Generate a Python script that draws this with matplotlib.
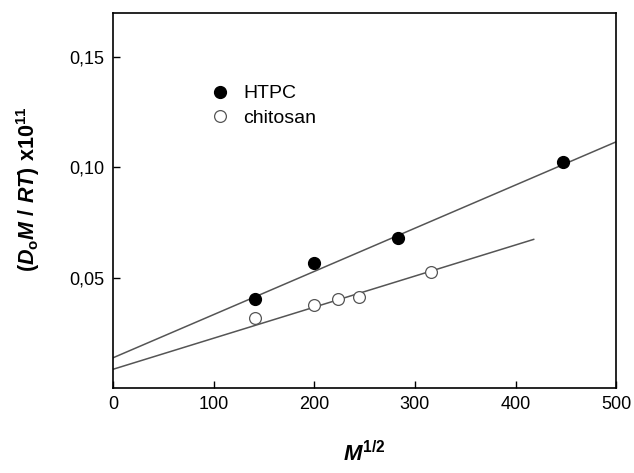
import numpy as np
import matplotlib.pyplot as plt
from matplotlib.ticker import FuncFormatter

# data
htpc_x = [141.4, 200.0, 282.8, 447.2]
htpc_y = [0.0405, 0.0568, 0.0680, 0.1023]
chit_x = [141.4, 200.0, 223.6, 244.9, 316.2]
chit_y = [0.0315, 0.0375, 0.0405, 0.0412, 0.0527]

# fitted lines (intercept, slope, x range)
htpc_fit = (0.0136, 1.96e-4, 0, 500)
chit_fit = (0.0084, 1.41e-4, 0, 418)

plt.rcParams['font.family'] = ['Liberation Sans', 'DejaVu Sans']
plt.rcParams['mathtext.fontset'] = 'custom'
plt.rcParams['mathtext.rm'] = 'Liberation Sans:bold'
plt.rcParams['mathtext.it'] = 'Liberation Sans:italic:bold'
plt.rcParams['mathtext.bf'] = 'Liberation Sans:bold'

fig = plt.figure(figsize=(6.34, 4.73), dpi=100)
ax = fig.add_axes([0.178, 0.18, 0.794, 0.7925])

for b, m, x0, x1 in [htpc_fit, chit_fit]:
    xx = np.array([x0, x1])
    ax.plot(xx, b + m * xx, color='#555555', lw=1.1)

ax.plot(htpc_x, htpc_y, 'o', color='black', ms=8.5, label='HTPC')
ax.plot(chit_x, chit_y, 'o', mfc='white', mec='#555555', mew=0.9, ms=8.5, label='chitosan')

ax.set_xlim(0, 500)
ax.set_ylim(0, 0.17)
ax.set_xticks([0, 100, 200, 300, 400, 500])
ax.set_yticks([0.05, 0.10, 0.15])
ax.yaxis.set_major_formatter(FuncFormatter(lambda v, p: ('%.2f' % v).replace('.', ',')))
ax.tick_params(direction='in', length=5, width=1, labelsize=13, pad=6)
for s in ax.spines.values():
    s.set_linewidth(1.2)

ax.set_xlabel(r'$M^{\mathrm{1/2}}$', fontsize=16, labelpad=20)
ax.set_ylabel(r'$(D_{\mathrm{o}}M\ /\ RT)\ \mathrm{x10}^{11}$', fontsize=15.5)
ax.yaxis.set_label_coords(-0.14, 0.53)

ax.legend(loc='upper left', bbox_to_anchor=(0.155, 0.855), frameon=False, fontsize=14,
          handletextpad=0.6, labelspacing=0.35, handlelength=1.2)

fig.savefig('out.png', dpi=100)
